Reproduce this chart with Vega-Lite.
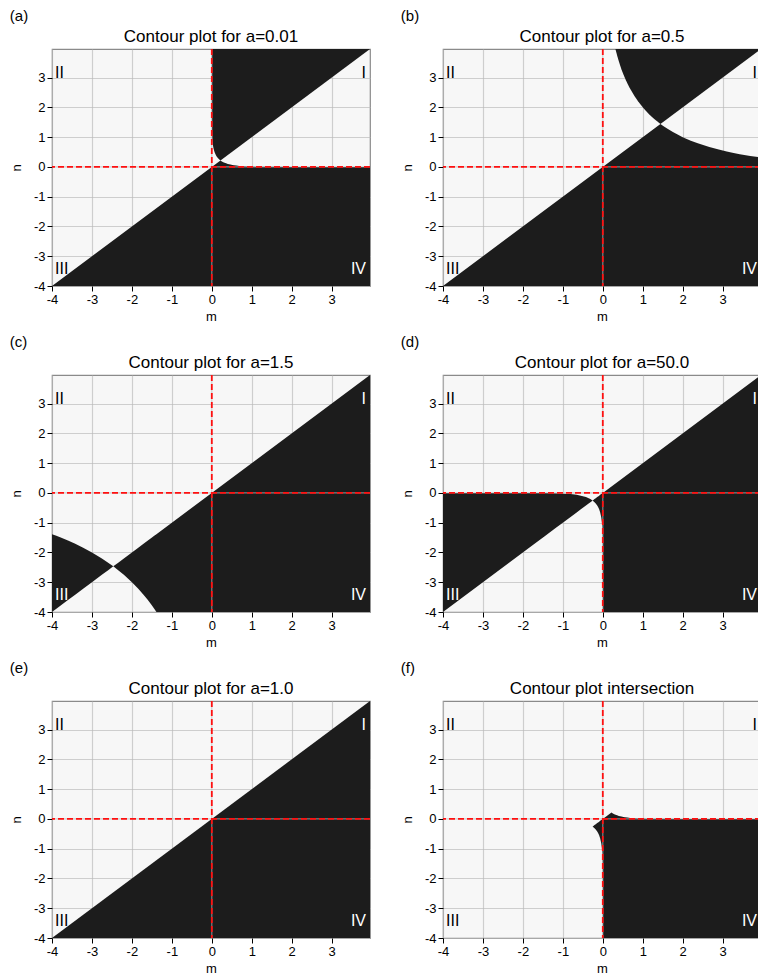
{
  "$schema": "https://vega.github.io/schema/vega-lite/v6.json",
  "background": "white",
  "padding": {"left": 9, "top": 8, "right": 0, "bottom": 0},
  "config": {
    "locale": {"number": {"decimal": ".", "thousands": ",", "grouping": [3], "currency": ["$", ""], "minus": "-"}},
    "view": {"stroke": "#8a8a8a", "strokeWidth": 1.2, "fill": "#f7f7f7"},
    "title": {"font": "Liberation Sans", "fontSize": 17, "fontWeight": "normal", "color": "#000000"},
    "axis": {
      "grid": true, "gridOpacity": 0.65, "gridWidth": 1.2, "domain": false,
      "tickColor": "#000000", "tickSize": 5, "tickWidth": 1,
      "labelFont": "Liberation Sans", "labelFontSize": 13, "labelColor": "#000000", "labelFlush": false, "labelOverlap": false,
      "titleFont": "Liberation Sans", "titleFontSize": 13, "titleFontWeight": "normal", "titleColor": "#000000",
      "zindex": 1
    },
    "axisX": {"labelPadding": 2, "titlePadding": 4},
    "axisY": {"labelPadding": 2, "titlePadding": 10},
    "style": {
      "dark": {"color": "#1c1c1c"},
      "zgray": {"color": "#b9b9b9", "opacity": 0.65, "strokeWidth": 1.2},
      "zred": {"color": "#ff1010", "strokeWidth": 1.8, "strokeDash": [6, 3]},
      "ql": {"align": "left", "baseline": "alphabetic", "dx": 3, "font": "Liberation Sans", "fontSize": 16},
      "qr": {"align": "right", "baseline": "alphabetic", "dx": -4, "font": "Liberation Sans", "fontSize": 16}
    }
  },
  "datasets": {
    "rows": [
      {"p":"a","k":"d","b":"A","m":-4,"lo":-4,"hi":-4},
      {"p":"a","k":"d","b":"A","m":0.21715,"lo":-4,"hi":0.21715},
      {"p":"a","k":"d","b":"A","m":0.22766,"lo":-4,"hi":0.20696},
      {"p":"a","k":"d","b":"A","m":0.24227,"lo":-4,"hi":0.19382},
      {"p":"a","k":"d","b":"A","m":0.26414,"lo":-4,"hi":0.17609},
      {"p":"a","k":"d","b":"A","m":0.30103,"lo":-4,"hi":0.15051},
      {"p":"a","k":"d","b":"A","m":0.35784,"lo":-4,"hi":0.11928},
      {"p":"a","k":"d","b":"A","m":0.40137,"lo":-4,"hi":0.10034},
      {"p":"a","k":"d","b":"A","m":0.4669,"lo":-4,"hi":0.07781},
      {"p":"a","k":"d","b":"A","m":0.5161,"lo":-4,"hi":0.06451},
      {"p":"a","k":"d","b":"A","m":0.5556,"lo":-4,"hi":0.05556},
      {"p":"a","k":"d","b":"A","m":0.6171,"lo":-4,"hi":0.04408},
      {"p":"a","k":"d","b":"A","m":0.6847,"lo":-4,"hi":0.03424},
      {"p":"a","k":"d","b":"A","m":0.7641,"lo":-4,"hi":0.02547},
      {"p":"a","k":"d","b":"A","m":0.8216,"lo":-4,"hi":0.02054},
      {"p":"a","k":"d","b":"A","m":0.9041,"lo":-4,"hi":0.01507},
      {"p":"a","k":"d","b":"A","m":1.0101,"lo":-4,"hi":0.0101},
      {"p":"a","k":"d","b":"A","m":1.109,"lo":-4,"hi":0.00693},
      {"p":"a","k":"d","b":"A","m":1.2427,"lo":-4,"hi":0.00414},
      {"p":"a","k":"d","b":"A","m":1.5015,"lo":-4,"hi":0.0015},
      {"p":"a","k":"d","b":"A","m":2.0,"lo":-4,"hi":0.0002},
      {"p":"a","k":"d","b":"A","m":3.96,"lo":-4,"hi":0},
      {"p":"a","k":"d","b":"B","m":0,"lo":3.96,"hi":3.96},
      {"p":"a","k":"d","b":"B","m":0.0002,"lo":2.0,"hi":3.96},
      {"p":"a","k":"d","b":"B","m":0.0015,"lo":1.5015,"hi":3.96},
      {"p":"a","k":"d","b":"B","m":0.00414,"lo":1.2427,"hi":3.96},
      {"p":"a","k":"d","b":"B","m":0.00693,"lo":1.109,"hi":3.96},
      {"p":"a","k":"d","b":"B","m":0.0101,"lo":1.0101,"hi":3.96},
      {"p":"a","k":"d","b":"B","m":0.01507,"lo":0.9041,"hi":3.96},
      {"p":"a","k":"d","b":"B","m":0.02054,"lo":0.8216,"hi":3.96},
      {"p":"a","k":"d","b":"B","m":0.02547,"lo":0.7641,"hi":3.96},
      {"p":"a","k":"d","b":"B","m":0.03424,"lo":0.6847,"hi":3.96},
      {"p":"a","k":"d","b":"B","m":0.04408,"lo":0.6171,"hi":3.96},
      {"p":"a","k":"d","b":"B","m":0.05556,"lo":0.5556,"hi":3.96},
      {"p":"a","k":"d","b":"B","m":0.06451,"lo":0.5161,"hi":3.96},
      {"p":"a","k":"d","b":"B","m":0.07781,"lo":0.4669,"hi":3.96},
      {"p":"a","k":"d","b":"B","m":0.10034,"lo":0.40137,"hi":3.96},
      {"p":"a","k":"d","b":"B","m":0.11928,"lo":0.35784,"hi":3.96},
      {"p":"a","k":"d","b":"B","m":0.15051,"lo":0.30103,"hi":3.96},
      {"p":"a","k":"d","b":"B","m":0.17609,"lo":0.26414,"hi":3.96},
      {"p":"a","k":"d","b":"B","m":0.19382,"lo":0.24227,"hi":3.96},
      {"p":"a","k":"d","b":"B","m":0.20696,"lo":0.22766,"hi":3.96},
      {"p":"a","k":"d","b":"B","m":0.21715,"lo":0.21715,"hi":3.96},
      {"p":"a","k":"d","b":"B","m":3.96,"lo":3.96,"hi":3.96},
      {"p":"a","k":"o","m":0,"n":0},
      {"p":"a","k":"q","s":"l","t":"II","m":-4,"n":3,"tone":"light"},
      {"p":"a","k":"q","s":"r","t":"I","m":3.96,"n":3,"tone":"light"},
      {"p":"a","k":"q","s":"l","t":"III","m":-4,"n":-3.6,"tone":"light"},
      {"p":"a","k":"q","s":"r","t":"IV","m":3.96,"n":-3.6,"tone":"dark"},

      {"p":"b","k":"d","b":"A","m":-4,"lo":-4,"hi":-4},
      {"p":"b","k":"d","b":"A","m":1.4427,"lo":-4,"hi":1.4427},
      {"p":"b","k":"d","b":"A","m":1.5126,"lo":-4,"hi":1.3751},
      {"p":"b","k":"d","b":"A","m":1.6097,"lo":-4,"hi":1.2877},
      {"p":"b","k":"d","b":"A","m":1.7549,"lo":-4,"hi":1.1699},
      {"p":"b","k":"d","b":"A","m":1.8838,"lo":-4,"hi":1.0765},
      {"p":"b","k":"d","b":"A","m":2.0,"lo":-4,"hi":1.0},
      {"p":"b","k":"d","b":"A","m":2.2032,"lo":-4,"hi":0.8813},
      {"p":"b","k":"d","b":"A","m":2.3774,"lo":-4,"hi":0.7925},
      {"p":"b","k":"d","b":"A","m":2.6667,"lo":-4,"hi":0.6667},
      {"p":"b","k":"d","b":"A","m":2.9024,"lo":-4,"hi":0.5805},
      {"p":"b","k":"d","b":"A","m":3.102,"lo":-4,"hi":0.517},
      {"p":"b","k":"d","b":"A","m":3.2752,"lo":-4,"hi":0.4679},
      {"p":"b","k":"d","b":"A","m":3.4286,"lo":-4,"hi":0.4286},
      {"p":"b","k":"d","b":"A","m":3.6911,"lo":-4,"hi":0.3691},
      {"p":"b","k":"d","b":"A","m":3.9108,"lo":-4,"hi":0.3259},
      {"p":"b","k":"d","b":"A","m":3.96,"lo":-4,"hi":0.3169},
      {"p":"b","k":"d","b":"B","m":0.3169,"lo":3.96,"hi":3.96},
      {"p":"b","k":"d","b":"B","m":0.3259,"lo":3.9108,"hi":3.96},
      {"p":"b","k":"d","b":"B","m":0.3691,"lo":3.6911,"hi":3.96},
      {"p":"b","k":"d","b":"B","m":0.4286,"lo":3.4286,"hi":3.96},
      {"p":"b","k":"d","b":"B","m":0.4679,"lo":3.2752,"hi":3.96},
      {"p":"b","k":"d","b":"B","m":0.517,"lo":3.102,"hi":3.96},
      {"p":"b","k":"d","b":"B","m":0.5805,"lo":2.9024,"hi":3.96},
      {"p":"b","k":"d","b":"B","m":0.6667,"lo":2.6667,"hi":3.96},
      {"p":"b","k":"d","b":"B","m":0.7925,"lo":2.3774,"hi":3.96},
      {"p":"b","k":"d","b":"B","m":0.8813,"lo":2.2032,"hi":3.96},
      {"p":"b","k":"d","b":"B","m":1.0,"lo":2.0,"hi":3.96},
      {"p":"b","k":"d","b":"B","m":1.0765,"lo":1.8838,"hi":3.96},
      {"p":"b","k":"d","b":"B","m":1.1699,"lo":1.7549,"hi":3.96},
      {"p":"b","k":"d","b":"B","m":1.2877,"lo":1.6097,"hi":3.96},
      {"p":"b","k":"d","b":"B","m":1.3751,"lo":1.5126,"hi":3.96},
      {"p":"b","k":"d","b":"B","m":1.4427,"lo":1.4427,"hi":3.96},
      {"p":"b","k":"d","b":"B","m":3.96,"lo":3.96,"hi":3.96},
      {"p":"b","k":"o","m":0,"n":0},
      {"p":"b","k":"q","s":"l","t":"II","m":-4,"n":3,"tone":"light"},
      {"p":"b","k":"q","s":"r","t":"I","m":3.96,"n":3,"tone":"light"},
      {"p":"b","k":"q","s":"l","t":"III","m":-4,"n":-3.6,"tone":"light"},
      {"p":"b","k":"q","s":"r","t":"IV","m":3.96,"n":-3.6,"tone":"dark"},

      {"p":"c","k":"d","b":"A","m":-4,"lo":-4,"hi":-1.386},
      {"p":"c","k":"d","b":"A","m":-3.8907,"lo":-3.8907,"hi":-1.441},
      {"p":"c","k":"d","b":"A","m":-3.7664,"lo":-3.7664,"hi":-1.5066},
      {"p":"c","k":"d","b":"A","m":-3.6,"lo":-3.6,"hi":-1.6},
      {"p":"c","k":"d","b":"A","m":-3.419,"lo":-3.419,"hi":-1.7095},
      {"p":"c","k":"d","b":"A","m":-3.2204,"lo":-3.2204,"hi":-1.8403},
      {"p":"c","k":"d","b":"A","m":-3.0,"lo":-3.0,"hi":-2.0},
      {"p":"c","k":"d","b":"A","m":-2.7517,"lo":-2.7517,"hi":-2.2014},
      {"p":"c","k":"d","b":"A","m":-2.5857,"lo":-2.5857,"hi":-2.3507},
      {"p":"c","k":"d","b":"A","m":-2.4663,"lo":-2.4663,"hi":-2.4663},
      {"p":"c","k":"d","b":"A","m":-2.3507,"lo":-2.5857,"hi":-2.3507},
      {"p":"c","k":"d","b":"A","m":-2.2014,"lo":-2.7517,"hi":-2.2014},
      {"p":"c","k":"d","b":"A","m":-2.0,"lo":-3.0,"hi":-2.0},
      {"p":"c","k":"d","b":"A","m":-1.8403,"lo":-3.2204,"hi":-1.8403},
      {"p":"c","k":"d","b":"A","m":-1.7095,"lo":-3.419,"hi":-1.7095},
      {"p":"c","k":"d","b":"A","m":-1.6,"lo":-3.6,"hi":-1.6},
      {"p":"c","k":"d","b":"A","m":-1.5066,"lo":-3.7664,"hi":-1.5066},
      {"p":"c","k":"d","b":"A","m":-1.441,"lo":-3.8907,"hi":-1.441},
      {"p":"c","k":"d","b":"A","m":-1.386,"lo":-4,"hi":-1.386},
      {"p":"c","k":"d","b":"A","m":3.96,"lo":-4,"hi":3.96},
      {"p":"c","k":"o","m":0,"n":0},
      {"p":"c","k":"q","s":"l","t":"II","m":-4,"n":3,"tone":"light"},
      {"p":"c","k":"q","s":"r","t":"I","m":3.96,"n":3,"tone":"dark"},
      {"p":"c","k":"q","s":"l","t":"III","m":-4,"n":-3.6,"tone":"dark"},
      {"p":"c","k":"q","s":"r","t":"IV","m":3.96,"n":-3.6,"tone":"dark"},

      {"p":"d","k":"d","b":"A","m":-4,"lo":-4,"hi":0},
      {"p":"d","k":"d","b":"A","m":-2.3546,"lo":-2.3546,"hi":-0.0002},
      {"p":"d","k":"d","b":"A","m":-1.7675,"lo":-1.7675,"hi":-0.0018},
      {"p":"d","k":"d","b":"A","m":-1.4629,"lo":-1.4629,"hi":-0.0049},
      {"p":"d","k":"d","b":"A","m":-1.1891,"lo":-1.1891,"hi":-0.0119},
      {"p":"d","k":"d","b":"A","m":-0.9671,"lo":-0.9671,"hi":-0.0242},
      {"p":"d","k":"d","b":"A","m":-0.8061,"lo":-0.8061,"hi":-0.0403},
      {"p":"d","k":"d","b":"A","m":-0.654,"lo":-0.654,"hi":-0.0654},
      {"p":"d","k":"d","b":"A","m":-0.5496,"lo":-0.5496,"hi":-0.0916},
      {"p":"d","k":"d","b":"A","m":-0.4725,"lo":-0.4725,"hi":-0.1181},
      {"p":"d","k":"d","b":"A","m":-0.4213,"lo":-0.4213,"hi":-0.1404},
      {"p":"d","k":"d","b":"A","m":-0.3544,"lo":-0.3544,"hi":-0.1772},
      {"p":"d","k":"d","b":"A","m":-0.3109,"lo":-0.3109,"hi":-0.2073},
      {"p":"d","k":"d","b":"A","m":-0.2852,"lo":-0.2852,"hi":-0.2282},
      {"p":"d","k":"d","b":"A","m":-0.268,"lo":-0.268,"hi":-0.2436},
      {"p":"d","k":"d","b":"A","m":-0.2556,"lo":-0.2556,"hi":-0.2556},
      {"p":"d","k":"d","b":"A","m":-0.2436,"lo":-0.268,"hi":-0.2436},
      {"p":"d","k":"d","b":"A","m":-0.2282,"lo":-0.2852,"hi":-0.2282},
      {"p":"d","k":"d","b":"A","m":-0.2073,"lo":-0.3109,"hi":-0.2073},
      {"p":"d","k":"d","b":"A","m":-0.1772,"lo":-0.3544,"hi":-0.1772},
      {"p":"d","k":"d","b":"A","m":-0.1404,"lo":-0.4213,"hi":-0.1404},
      {"p":"d","k":"d","b":"A","m":-0.1181,"lo":-0.4725,"hi":-0.1181},
      {"p":"d","k":"d","b":"A","m":-0.0916,"lo":-0.5496,"hi":-0.0916},
      {"p":"d","k":"d","b":"A","m":-0.0654,"lo":-0.654,"hi":-0.0654},
      {"p":"d","k":"d","b":"A","m":-0.0403,"lo":-0.8061,"hi":-0.0403},
      {"p":"d","k":"d","b":"A","m":-0.0242,"lo":-0.9671,"hi":-0.0242},
      {"p":"d","k":"d","b":"A","m":-0.0119,"lo":-1.1891,"hi":-0.0119},
      {"p":"d","k":"d","b":"A","m":-0.0049,"lo":-1.4629,"hi":-0.0049},
      {"p":"d","k":"d","b":"A","m":-0.0018,"lo":-1.7675,"hi":-0.0018},
      {"p":"d","k":"d","b":"A","m":-0.0002,"lo":-2.3546,"hi":-0.0002},
      {"p":"d","k":"d","b":"A","m":0,"lo":-4,"hi":0},
      {"p":"d","k":"d","b":"A","m":3.96,"lo":-4,"hi":3.96},
      {"p":"d","k":"o","m":0,"n":0},
      {"p":"d","k":"q","s":"l","t":"II","m":-4,"n":3,"tone":"light"},
      {"p":"d","k":"q","s":"r","t":"I","m":3.96,"n":3,"tone":"dark"},
      {"p":"d","k":"q","s":"l","t":"III","m":-4,"n":-3.6,"tone":"dark"},
      {"p":"d","k":"q","s":"r","t":"IV","m":3.96,"n":-3.6,"tone":"dark"},

      {"p":"e","k":"d","b":"A","m":-4,"lo":-4,"hi":-4},
      {"p":"e","k":"d","b":"A","m":3.96,"lo":-4,"hi":3.96},
      {"p":"e","k":"o","m":0,"n":0},
      {"p":"e","k":"q","s":"l","t":"II","m":-4,"n":3,"tone":"light"},
      {"p":"e","k":"q","s":"r","t":"I","m":3.96,"n":3,"tone":"dark"},
      {"p":"e","k":"q","s":"l","t":"III","m":-4,"n":-3.6,"tone":"light"},
      {"p":"e","k":"q","s":"r","t":"IV","m":3.96,"n":-3.6,"tone":"dark"},

      {"p":"f","k":"d","b":"A","m":-0.2556,"lo":-0.2556,"hi":-0.2556},
      {"p":"f","k":"d","b":"A","m":-0.2436,"lo":-0.268,"hi":-0.2436},
      {"p":"f","k":"d","b":"A","m":-0.2282,"lo":-0.2852,"hi":-0.2282},
      {"p":"f","k":"d","b":"A","m":-0.2073,"lo":-0.3109,"hi":-0.2073},
      {"p":"f","k":"d","b":"A","m":-0.1772,"lo":-0.3544,"hi":-0.1772},
      {"p":"f","k":"d","b":"A","m":-0.1404,"lo":-0.4213,"hi":-0.1404},
      {"p":"f","k":"d","b":"A","m":-0.1181,"lo":-0.4725,"hi":-0.1181},
      {"p":"f","k":"d","b":"A","m":-0.0916,"lo":-0.5496,"hi":-0.0916},
      {"p":"f","k":"d","b":"A","m":-0.0654,"lo":-0.654,"hi":-0.0654},
      {"p":"f","k":"d","b":"A","m":-0.0403,"lo":-0.8061,"hi":-0.0403},
      {"p":"f","k":"d","b":"A","m":-0.0242,"lo":-0.9671,"hi":-0.0242},
      {"p":"f","k":"d","b":"A","m":-0.0119,"lo":-1.1891,"hi":-0.0119},
      {"p":"f","k":"d","b":"A","m":-0.0049,"lo":-1.4629,"hi":-0.0049},
      {"p":"f","k":"d","b":"A","m":-0.0018,"lo":-1.7675,"hi":-0.0018},
      {"p":"f","k":"d","b":"A","m":-0.0002,"lo":-2.3546,"hi":-0.0002},
      {"p":"f","k":"d","b":"A","m":0,"lo":-4,"hi":0},
      {"p":"f","k":"d","b":"A","m":0.21715,"lo":-4,"hi":0.21715},
      {"p":"f","k":"d","b":"A","m":0.22766,"lo":-4,"hi":0.20696},
      {"p":"f","k":"d","b":"A","m":0.24227,"lo":-4,"hi":0.19382},
      {"p":"f","k":"d","b":"A","m":0.26414,"lo":-4,"hi":0.17609},
      {"p":"f","k":"d","b":"A","m":0.30103,"lo":-4,"hi":0.15051},
      {"p":"f","k":"d","b":"A","m":0.35784,"lo":-4,"hi":0.11928},
      {"p":"f","k":"d","b":"A","m":0.40137,"lo":-4,"hi":0.10034},
      {"p":"f","k":"d","b":"A","m":0.4669,"lo":-4,"hi":0.07781},
      {"p":"f","k":"d","b":"A","m":0.5161,"lo":-4,"hi":0.06451},
      {"p":"f","k":"d","b":"A","m":0.5556,"lo":-4,"hi":0.05556},
      {"p":"f","k":"d","b":"A","m":0.6171,"lo":-4,"hi":0.04408},
      {"p":"f","k":"d","b":"A","m":0.6847,"lo":-4,"hi":0.03424},
      {"p":"f","k":"d","b":"A","m":0.7641,"lo":-4,"hi":0.02547},
      {"p":"f","k":"d","b":"A","m":0.8216,"lo":-4,"hi":0.02054},
      {"p":"f","k":"d","b":"A","m":0.9041,"lo":-4,"hi":0.01507},
      {"p":"f","k":"d","b":"A","m":1.0101,"lo":-4,"hi":0.0101},
      {"p":"f","k":"d","b":"A","m":1.109,"lo":-4,"hi":0.00693},
      {"p":"f","k":"d","b":"A","m":1.2427,"lo":-4,"hi":0.00414},
      {"p":"f","k":"d","b":"A","m":1.5015,"lo":-4,"hi":0.0015},
      {"p":"f","k":"d","b":"A","m":2.0,"lo":-4,"hi":0.0002},
      {"p":"f","k":"d","b":"A","m":3.96,"lo":-4,"hi":0},
      {"p":"f","k":"o","m":0,"n":0},
      {"p":"f","k":"q","s":"l","t":"II","m":-4,"n":3,"tone":"light"},
      {"p":"f","k":"q","s":"r","t":"I","m":3.96,"n":3,"tone":"light"},
      {"p":"f","k":"q","s":"l","t":"III","m":-4,"n":-3.6,"tone":"light"},
      {"p":"f","k":"q","s":"r","t":"IV","m":3.96,"n":-3.6,"tone":"dark"}
    ]
  },
  "columns": 2,
  "spacing": {"row": 10, "column": 28},
  "concat": [
    {"title": {"text": "(a)", "anchor": "start", "fontSize": 15, "offset": 4},
     "vconcat": [{"title": {"text": "Contour plot for a=0.01", "offset": 2}, "width": 318, "height": 237,
      "data": {"name": "rows"}, "transform": [{"filter": "datum.p === 'a'"}],
      "layer": [
        {"transform": [{"filter": "datum.k === 'd'"}], "mark": {"type": "area", "style": "dark"},
         "encoding": {"x": {"field": "m", "type": "quantitative", "title": "m", "scale": {"domain": [-4, 3.96], "nice": false, "zero": false}, "axis": {"values": [-4, -3, -2, -1, 0, 1, 2, 3], "gridColor": {"condition": {"test": "datum.value === 0", "value": "transparent"}, "value": "#b9b9b9"}}},
                      "y": {"field": "lo", "type": "quantitative", "title": "n", "scale": {"domain": [-4, 3.96], "nice": false, "zero": false}, "axis": {"values": [-4, -3, -2, -1, 0, 1, 2, 3], "gridColor": {"condition": {"test": "datum.value === 0", "value": "transparent"}, "value": "#b9b9b9"}}},
                      "y2": {"field": "hi"}, "detail": {"field": "b"}}},
        {"transform": [{"filter": "datum.k === 'o'"}], "mark": {"type": "rule", "style": "zgray"}, "encoding": {"x": {"field": "m", "type": "quantitative", "title": "m", "scale": {"domain": [-4, 3.96], "nice": false, "zero": false}, "axis": {"values": [-4, -3, -2, -1, 0, 1, 2, 3], "gridColor": {"condition": {"test": "datum.value === 0", "value": "transparent"}, "value": "#b9b9b9"}}}}},
        {"transform": [{"filter": "datum.k === 'o'"}], "mark": {"type": "rule", "style": "zgray"}, "encoding": {"y": {"field": "n", "type": "quantitative", "title": "n", "scale": {"domain": [-4, 3.96], "nice": false, "zero": false}, "axis": {"values": [-4, -3, -2, -1, 0, 1, 2, 3], "gridColor": {"condition": {"test": "datum.value === 0", "value": "transparent"}, "value": "#b9b9b9"}}}}},
        {"transform": [{"filter": "datum.k === 'o'"}], "mark": {"type": "rule", "style": "zred"}, "encoding": {"x": {"field": "m", "type": "quantitative", "title": "m", "scale": {"domain": [-4, 3.96], "nice": false, "zero": false}, "axis": {"values": [-4, -3, -2, -1, 0, 1, 2, 3], "gridColor": {"condition": {"test": "datum.value === 0", "value": "transparent"}, "value": "#b9b9b9"}}}}},
        {"transform": [{"filter": "datum.k === 'o'"}], "mark": {"type": "rule", "style": "zred"}, "encoding": {"y": {"field": "n", "type": "quantitative", "title": "n", "scale": {"domain": [-4, 3.96], "nice": false, "zero": false}, "axis": {"values": [-4, -3, -2, -1, 0, 1, 2, 3], "gridColor": {"condition": {"test": "datum.value === 0", "value": "transparent"}, "value": "#b9b9b9"}}}}},
        {"transform": [{"filter": "datum.k === 'q' && datum.s === 'l'"}], "mark": {"type": "text", "style": "ql"},
         "encoding": {"x": {"field": "m", "type": "quantitative", "title": "m", "scale": {"domain": [-4, 3.96], "nice": false, "zero": false}, "axis": {"values": [-4, -3, -2, -1, 0, 1, 2, 3], "gridColor": {"condition": {"test": "datum.value === 0", "value": "transparent"}, "value": "#b9b9b9"}}}, "y": {"field": "n", "type": "quantitative", "title": "n", "scale": {"domain": [-4, 3.96], "nice": false, "zero": false}, "axis": {"values": [-4, -3, -2, -1, 0, 1, 2, 3], "gridColor": {"condition": {"test": "datum.value === 0", "value": "transparent"}, "value": "#b9b9b9"}}}, "text": {"field": "t"}, "color": {"field": "tone", "type": "nominal", "scale": {"domain": ["light", "dark"], "range": ["#000000", "#ffffff"]}, "legend": null}}},
        {"transform": [{"filter": "datum.k === 'q' && datum.s === 'r'"}], "mark": {"type": "text", "style": "qr"},
         "encoding": {"x": {"field": "m", "type": "quantitative", "title": "m", "scale": {"domain": [-4, 3.96], "nice": false, "zero": false}, "axis": {"values": [-4, -3, -2, -1, 0, 1, 2, 3], "gridColor": {"condition": {"test": "datum.value === 0", "value": "transparent"}, "value": "#b9b9b9"}}}, "y": {"field": "n", "type": "quantitative", "title": "n", "scale": {"domain": [-4, 3.96], "nice": false, "zero": false}, "axis": {"values": [-4, -3, -2, -1, 0, 1, 2, 3], "gridColor": {"condition": {"test": "datum.value === 0", "value": "transparent"}, "value": "#b9b9b9"}}}, "text": {"field": "t"}, "color": {"field": "tone", "type": "nominal", "scale": {"domain": ["light", "dark"], "range": ["#000000", "#ffffff"]}, "legend": null}}}
      ]}]},
    {"title": {"text": "(b)", "anchor": "start", "fontSize": 15, "offset": 4},
     "vconcat": [{"title": {"text": "Contour plot for a=0.5", "offset": 2}, "width": 318, "height": 237,
      "data": {"name": "rows"}, "transform": [{"filter": "datum.p === 'b'"}],
      "layer": [
        {"transform": [{"filter": "datum.k === 'd'"}], "mark": {"type": "area", "style": "dark"},
         "encoding": {"x": {"field": "m", "type": "quantitative", "title": "m", "scale": {"domain": [-4, 3.96], "nice": false, "zero": false}, "axis": {"values": [-4, -3, -2, -1, 0, 1, 2, 3], "gridColor": {"condition": {"test": "datum.value === 0", "value": "transparent"}, "value": "#b9b9b9"}}},
                      "y": {"field": "lo", "type": "quantitative", "title": "n", "scale": {"domain": [-4, 3.96], "nice": false, "zero": false}, "axis": {"values": [-4, -3, -2, -1, 0, 1, 2, 3], "gridColor": {"condition": {"test": "datum.value === 0", "value": "transparent"}, "value": "#b9b9b9"}}},
                      "y2": {"field": "hi"}, "detail": {"field": "b"}}},
        {"transform": [{"filter": "datum.k === 'o'"}], "mark": {"type": "rule", "style": "zgray"}, "encoding": {"x": {"field": "m", "type": "quantitative", "title": "m", "scale": {"domain": [-4, 3.96], "nice": false, "zero": false}, "axis": {"values": [-4, -3, -2, -1, 0, 1, 2, 3], "gridColor": {"condition": {"test": "datum.value === 0", "value": "transparent"}, "value": "#b9b9b9"}}}}},
        {"transform": [{"filter": "datum.k === 'o'"}], "mark": {"type": "rule", "style": "zgray"}, "encoding": {"y": {"field": "n", "type": "quantitative", "title": "n", "scale": {"domain": [-4, 3.96], "nice": false, "zero": false}, "axis": {"values": [-4, -3, -2, -1, 0, 1, 2, 3], "gridColor": {"condition": {"test": "datum.value === 0", "value": "transparent"}, "value": "#b9b9b9"}}}}},
        {"transform": [{"filter": "datum.k === 'o'"}], "mark": {"type": "rule", "style": "zred"}, "encoding": {"x": {"field": "m", "type": "quantitative", "title": "m", "scale": {"domain": [-4, 3.96], "nice": false, "zero": false}, "axis": {"values": [-4, -3, -2, -1, 0, 1, 2, 3], "gridColor": {"condition": {"test": "datum.value === 0", "value": "transparent"}, "value": "#b9b9b9"}}}}},
        {"transform": [{"filter": "datum.k === 'o'"}], "mark": {"type": "rule", "style": "zred"}, "encoding": {"y": {"field": "n", "type": "quantitative", "title": "n", "scale": {"domain": [-4, 3.96], "nice": false, "zero": false}, "axis": {"values": [-4, -3, -2, -1, 0, 1, 2, 3], "gridColor": {"condition": {"test": "datum.value === 0", "value": "transparent"}, "value": "#b9b9b9"}}}}},
        {"transform": [{"filter": "datum.k === 'q' && datum.s === 'l'"}], "mark": {"type": "text", "style": "ql"},
         "encoding": {"x": {"field": "m", "type": "quantitative", "title": "m", "scale": {"domain": [-4, 3.96], "nice": false, "zero": false}, "axis": {"values": [-4, -3, -2, -1, 0, 1, 2, 3], "gridColor": {"condition": {"test": "datum.value === 0", "value": "transparent"}, "value": "#b9b9b9"}}}, "y": {"field": "n", "type": "quantitative", "title": "n", "scale": {"domain": [-4, 3.96], "nice": false, "zero": false}, "axis": {"values": [-4, -3, -2, -1, 0, 1, 2, 3], "gridColor": {"condition": {"test": "datum.value === 0", "value": "transparent"}, "value": "#b9b9b9"}}}, "text": {"field": "t"}, "color": {"field": "tone", "type": "nominal", "scale": {"domain": ["light", "dark"], "range": ["#000000", "#ffffff"]}, "legend": null}}},
        {"transform": [{"filter": "datum.k === 'q' && datum.s === 'r'"}], "mark": {"type": "text", "style": "qr"},
         "encoding": {"x": {"field": "m", "type": "quantitative", "title": "m", "scale": {"domain": [-4, 3.96], "nice": false, "zero": false}, "axis": {"values": [-4, -3, -2, -1, 0, 1, 2, 3], "gridColor": {"condition": {"test": "datum.value === 0", "value": "transparent"}, "value": "#b9b9b9"}}}, "y": {"field": "n", "type": "quantitative", "title": "n", "scale": {"domain": [-4, 3.96], "nice": false, "zero": false}, "axis": {"values": [-4, -3, -2, -1, 0, 1, 2, 3], "gridColor": {"condition": {"test": "datum.value === 0", "value": "transparent"}, "value": "#b9b9b9"}}}, "text": {"field": "t"}, "color": {"field": "tone", "type": "nominal", "scale": {"domain": ["light", "dark"], "range": ["#000000", "#ffffff"]}, "legend": null}}}
      ]}]},
    {"title": {"text": "(c)", "anchor": "start", "fontSize": 15, "offset": 4},
     "vconcat": [{"title": {"text": "Contour plot for a=1.5", "offset": 2}, "width": 318, "height": 237,
      "data": {"name": "rows"}, "transform": [{"filter": "datum.p === 'c'"}],
      "layer": [
        {"transform": [{"filter": "datum.k === 'd'"}], "mark": {"type": "area", "style": "dark"},
         "encoding": {"x": {"field": "m", "type": "quantitative", "title": "m", "scale": {"domain": [-4, 3.96], "nice": false, "zero": false}, "axis": {"values": [-4, -3, -2, -1, 0, 1, 2, 3], "gridColor": {"condition": {"test": "datum.value === 0", "value": "transparent"}, "value": "#b9b9b9"}}},
                      "y": {"field": "lo", "type": "quantitative", "title": "n", "scale": {"domain": [-4, 3.96], "nice": false, "zero": false}, "axis": {"values": [-4, -3, -2, -1, 0, 1, 2, 3], "gridColor": {"condition": {"test": "datum.value === 0", "value": "transparent"}, "value": "#b9b9b9"}}},
                      "y2": {"field": "hi"}, "detail": {"field": "b"}}},
        {"transform": [{"filter": "datum.k === 'o'"}], "mark": {"type": "rule", "style": "zgray"}, "encoding": {"x": {"field": "m", "type": "quantitative", "title": "m", "scale": {"domain": [-4, 3.96], "nice": false, "zero": false}, "axis": {"values": [-4, -3, -2, -1, 0, 1, 2, 3], "gridColor": {"condition": {"test": "datum.value === 0", "value": "transparent"}, "value": "#b9b9b9"}}}}},
        {"transform": [{"filter": "datum.k === 'o'"}], "mark": {"type": "rule", "style": "zgray"}, "encoding": {"y": {"field": "n", "type": "quantitative", "title": "n", "scale": {"domain": [-4, 3.96], "nice": false, "zero": false}, "axis": {"values": [-4, -3, -2, -1, 0, 1, 2, 3], "gridColor": {"condition": {"test": "datum.value === 0", "value": "transparent"}, "value": "#b9b9b9"}}}}},
        {"transform": [{"filter": "datum.k === 'o'"}], "mark": {"type": "rule", "style": "zred"}, "encoding": {"x": {"field": "m", "type": "quantitative", "title": "m", "scale": {"domain": [-4, 3.96], "nice": false, "zero": false}, "axis": {"values": [-4, -3, -2, -1, 0, 1, 2, 3], "gridColor": {"condition": {"test": "datum.value === 0", "value": "transparent"}, "value": "#b9b9b9"}}}}},
        {"transform": [{"filter": "datum.k === 'o'"}], "mark": {"type": "rule", "style": "zred"}, "encoding": {"y": {"field": "n", "type": "quantitative", "title": "n", "scale": {"domain": [-4, 3.96], "nice": false, "zero": false}, "axis": {"values": [-4, -3, -2, -1, 0, 1, 2, 3], "gridColor": {"condition": {"test": "datum.value === 0", "value": "transparent"}, "value": "#b9b9b9"}}}}},
        {"transform": [{"filter": "datum.k === 'q' && datum.s === 'l'"}], "mark": {"type": "text", "style": "ql"},
         "encoding": {"x": {"field": "m", "type": "quantitative", "title": "m", "scale": {"domain": [-4, 3.96], "nice": false, "zero": false}, "axis": {"values": [-4, -3, -2, -1, 0, 1, 2, 3], "gridColor": {"condition": {"test": "datum.value === 0", "value": "transparent"}, "value": "#b9b9b9"}}}, "y": {"field": "n", "type": "quantitative", "title": "n", "scale": {"domain": [-4, 3.96], "nice": false, "zero": false}, "axis": {"values": [-4, -3, -2, -1, 0, 1, 2, 3], "gridColor": {"condition": {"test": "datum.value === 0", "value": "transparent"}, "value": "#b9b9b9"}}}, "text": {"field": "t"}, "color": {"field": "tone", "type": "nominal", "scale": {"domain": ["light", "dark"], "range": ["#000000", "#ffffff"]}, "legend": null}}},
        {"transform": [{"filter": "datum.k === 'q' && datum.s === 'r'"}], "mark": {"type": "text", "style": "qr"},
         "encoding": {"x": {"field": "m", "type": "quantitative", "title": "m", "scale": {"domain": [-4, 3.96], "nice": false, "zero": false}, "axis": {"values": [-4, -3, -2, -1, 0, 1, 2, 3], "gridColor": {"condition": {"test": "datum.value === 0", "value": "transparent"}, "value": "#b9b9b9"}}}, "y": {"field": "n", "type": "quantitative", "title": "n", "scale": {"domain": [-4, 3.96], "nice": false, "zero": false}, "axis": {"values": [-4, -3, -2, -1, 0, 1, 2, 3], "gridColor": {"condition": {"test": "datum.value === 0", "value": "transparent"}, "value": "#b9b9b9"}}}, "text": {"field": "t"}, "color": {"field": "tone", "type": "nominal", "scale": {"domain": ["light", "dark"], "range": ["#000000", "#ffffff"]}, "legend": null}}}
      ]}]},
    {"title": {"text": "(d)", "anchor": "start", "fontSize": 15, "offset": 4},
     "vconcat": [{"title": {"text": "Contour plot for a=50.0", "offset": 2}, "width": 318, "height": 237,
      "data": {"name": "rows"}, "transform": [{"filter": "datum.p === 'd'"}],
      "layer": [
        {"transform": [{"filter": "datum.k === 'd'"}], "mark": {"type": "area", "style": "dark"},
         "encoding": {"x": {"field": "m", "type": "quantitative", "title": "m", "scale": {"domain": [-4, 3.96], "nice": false, "zero": false}, "axis": {"values": [-4, -3, -2, -1, 0, 1, 2, 3], "gridColor": {"condition": {"test": "datum.value === 0", "value": "transparent"}, "value": "#b9b9b9"}}},
                      "y": {"field": "lo", "type": "quantitative", "title": "n", "scale": {"domain": [-4, 3.96], "nice": false, "zero": false}, "axis": {"values": [-4, -3, -2, -1, 0, 1, 2, 3], "gridColor": {"condition": {"test": "datum.value === 0", "value": "transparent"}, "value": "#b9b9b9"}}},
                      "y2": {"field": "hi"}, "detail": {"field": "b"}}},
        {"transform": [{"filter": "datum.k === 'o'"}], "mark": {"type": "rule", "style": "zgray"}, "encoding": {"x": {"field": "m", "type": "quantitative", "title": "m", "scale": {"domain": [-4, 3.96], "nice": false, "zero": false}, "axis": {"values": [-4, -3, -2, -1, 0, 1, 2, 3], "gridColor": {"condition": {"test": "datum.value === 0", "value": "transparent"}, "value": "#b9b9b9"}}}}},
        {"transform": [{"filter": "datum.k === 'o'"}], "mark": {"type": "rule", "style": "zgray"}, "encoding": {"y": {"field": "n", "type": "quantitative", "title": "n", "scale": {"domain": [-4, 3.96], "nice": false, "zero": false}, "axis": {"values": [-4, -3, -2, -1, 0, 1, 2, 3], "gridColor": {"condition": {"test": "datum.value === 0", "value": "transparent"}, "value": "#b9b9b9"}}}}},
        {"transform": [{"filter": "datum.k === 'o'"}], "mark": {"type": "rule", "style": "zred"}, "encoding": {"x": {"field": "m", "type": "quantitative", "title": "m", "scale": {"domain": [-4, 3.96], "nice": false, "zero": false}, "axis": {"values": [-4, -3, -2, -1, 0, 1, 2, 3], "gridColor": {"condition": {"test": "datum.value === 0", "value": "transparent"}, "value": "#b9b9b9"}}}}},
        {"transform": [{"filter": "datum.k === 'o'"}], "mark": {"type": "rule", "style": "zred"}, "encoding": {"y": {"field": "n", "type": "quantitative", "title": "n", "scale": {"domain": [-4, 3.96], "nice": false, "zero": false}, "axis": {"values": [-4, -3, -2, -1, 0, 1, 2, 3], "gridColor": {"condition": {"test": "datum.value === 0", "value": "transparent"}, "value": "#b9b9b9"}}}}},
        {"transform": [{"filter": "datum.k === 'q' && datum.s === 'l'"}], "mark": {"type": "text", "style": "ql"},
         "encoding": {"x": {"field": "m", "type": "quantitative", "title": "m", "scale": {"domain": [-4, 3.96], "nice": false, "zero": false}, "axis": {"values": [-4, -3, -2, -1, 0, 1, 2, 3], "gridColor": {"condition": {"test": "datum.value === 0", "value": "transparent"}, "value": "#b9b9b9"}}}, "y": {"field": "n", "type": "quantitative", "title": "n", "scale": {"domain": [-4, 3.96], "nice": false, "zero": false}, "axis": {"values": [-4, -3, -2, -1, 0, 1, 2, 3], "gridColor": {"condition": {"test": "datum.value === 0", "value": "transparent"}, "value": "#b9b9b9"}}}, "text": {"field": "t"}, "color": {"field": "tone", "type": "nominal", "scale": {"domain": ["light", "dark"], "range": ["#000000", "#ffffff"]}, "legend": null}}},
        {"transform": [{"filter": "datum.k === 'q' && datum.s === 'r'"}], "mark": {"type": "text", "style": "qr"},
         "encoding": {"x": {"field": "m", "type": "quantitative", "title": "m", "scale": {"domain": [-4, 3.96], "nice": false, "zero": false}, "axis": {"values": [-4, -3, -2, -1, 0, 1, 2, 3], "gridColor": {"condition": {"test": "datum.value === 0", "value": "transparent"}, "value": "#b9b9b9"}}}, "y": {"field": "n", "type": "quantitative", "title": "n", "scale": {"domain": [-4, 3.96], "nice": false, "zero": false}, "axis": {"values": [-4, -3, -2, -1, 0, 1, 2, 3], "gridColor": {"condition": {"test": "datum.value === 0", "value": "transparent"}, "value": "#b9b9b9"}}}, "text": {"field": "t"}, "color": {"field": "tone", "type": "nominal", "scale": {"domain": ["light", "dark"], "range": ["#000000", "#ffffff"]}, "legend": null}}}
      ]}]},
    {"title": {"text": "(e)", "anchor": "start", "fontSize": 15, "offset": 4},
     "vconcat": [{"title": {"text": "Contour plot for a=1.0", "offset": 2}, "width": 318, "height": 237,
      "data": {"name": "rows"}, "transform": [{"filter": "datum.p === 'e'"}],
      "layer": [
        {"transform": [{"filter": "datum.k === 'd'"}], "mark": {"type": "area", "style": "dark"},
         "encoding": {"x": {"field": "m", "type": "quantitative", "title": "m", "scale": {"domain": [-4, 3.96], "nice": false, "zero": false}, "axis": {"values": [-4, -3, -2, -1, 0, 1, 2, 3], "gridColor": {"condition": {"test": "datum.value === 0", "value": "transparent"}, "value": "#b9b9b9"}}},
                      "y": {"field": "lo", "type": "quantitative", "title": "n", "scale": {"domain": [-4, 3.96], "nice": false, "zero": false}, "axis": {"values": [-4, -3, -2, -1, 0, 1, 2, 3], "gridColor": {"condition": {"test": "datum.value === 0", "value": "transparent"}, "value": "#b9b9b9"}}},
                      "y2": {"field": "hi"}, "detail": {"field": "b"}}},
        {"transform": [{"filter": "datum.k === 'o'"}], "mark": {"type": "rule", "style": "zgray"}, "encoding": {"x": {"field": "m", "type": "quantitative", "title": "m", "scale": {"domain": [-4, 3.96], "nice": false, "zero": false}, "axis": {"values": [-4, -3, -2, -1, 0, 1, 2, 3], "gridColor": {"condition": {"test": "datum.value === 0", "value": "transparent"}, "value": "#b9b9b9"}}}}},
        {"transform": [{"filter": "datum.k === 'o'"}], "mark": {"type": "rule", "style": "zgray"}, "encoding": {"y": {"field": "n", "type": "quantitative", "title": "n", "scale": {"domain": [-4, 3.96], "nice": false, "zero": false}, "axis": {"values": [-4, -3, -2, -1, 0, 1, 2, 3], "gridColor": {"condition": {"test": "datum.value === 0", "value": "transparent"}, "value": "#b9b9b9"}}}}},
        {"transform": [{"filter": "datum.k === 'o'"}], "mark": {"type": "rule", "style": "zred"}, "encoding": {"x": {"field": "m", "type": "quantitative", "title": "m", "scale": {"domain": [-4, 3.96], "nice": false, "zero": false}, "axis": {"values": [-4, -3, -2, -1, 0, 1, 2, 3], "gridColor": {"condition": {"test": "datum.value === 0", "value": "transparent"}, "value": "#b9b9b9"}}}}},
        {"transform": [{"filter": "datum.k === 'o'"}], "mark": {"type": "rule", "style": "zred"}, "encoding": {"y": {"field": "n", "type": "quantitative", "title": "n", "scale": {"domain": [-4, 3.96], "nice": false, "zero": false}, "axis": {"values": [-4, -3, -2, -1, 0, 1, 2, 3], "gridColor": {"condition": {"test": "datum.value === 0", "value": "transparent"}, "value": "#b9b9b9"}}}}},
        {"transform": [{"filter": "datum.k === 'q' && datum.s === 'l'"}], "mark": {"type": "text", "style": "ql"},
         "encoding": {"x": {"field": "m", "type": "quantitative", "title": "m", "scale": {"domain": [-4, 3.96], "nice": false, "zero": false}, "axis": {"values": [-4, -3, -2, -1, 0, 1, 2, 3], "gridColor": {"condition": {"test": "datum.value === 0", "value": "transparent"}, "value": "#b9b9b9"}}}, "y": {"field": "n", "type": "quantitative", "title": "n", "scale": {"domain": [-4, 3.96], "nice": false, "zero": false}, "axis": {"values": [-4, -3, -2, -1, 0, 1, 2, 3], "gridColor": {"condition": {"test": "datum.value === 0", "value": "transparent"}, "value": "#b9b9b9"}}}, "text": {"field": "t"}, "color": {"field": "tone", "type": "nominal", "scale": {"domain": ["light", "dark"], "range": ["#000000", "#ffffff"]}, "legend": null}}},
        {"transform": [{"filter": "datum.k === 'q' && datum.s === 'r'"}], "mark": {"type": "text", "style": "qr"},
         "encoding": {"x": {"field": "m", "type": "quantitative", "title": "m", "scale": {"domain": [-4, 3.96], "nice": false, "zero": false}, "axis": {"values": [-4, -3, -2, -1, 0, 1, 2, 3], "gridColor": {"condition": {"test": "datum.value === 0", "value": "transparent"}, "value": "#b9b9b9"}}}, "y": {"field": "n", "type": "quantitative", "title": "n", "scale": {"domain": [-4, 3.96], "nice": false, "zero": false}, "axis": {"values": [-4, -3, -2, -1, 0, 1, 2, 3], "gridColor": {"condition": {"test": "datum.value === 0", "value": "transparent"}, "value": "#b9b9b9"}}}, "text": {"field": "t"}, "color": {"field": "tone", "type": "nominal", "scale": {"domain": ["light", "dark"], "range": ["#000000", "#ffffff"]}, "legend": null}}}
      ]}]},
    {"title": {"text": "(f)", "anchor": "start", "fontSize": 15, "offset": 4},
     "vconcat": [{"title": {"text": "Contour plot intersection", "offset": 2}, "width": 318, "height": 237,
      "data": {"name": "rows"}, "transform": [{"filter": "datum.p === 'f'"}],
      "layer": [
        {"transform": [{"filter": "datum.k === 'd'"}], "mark": {"type": "area", "style": "dark"},
         "encoding": {"x": {"field": "m", "type": "quantitative", "title": "m", "scale": {"domain": [-4, 3.96], "nice": false, "zero": false}, "axis": {"values": [-4, -3, -2, -1, 0, 1, 2, 3], "gridColor": {"condition": {"test": "datum.value === 0", "value": "transparent"}, "value": "#b9b9b9"}}},
                      "y": {"field": "lo", "type": "quantitative", "title": "n", "scale": {"domain": [-4, 3.96], "nice": false, "zero": false}, "axis": {"values": [-4, -3, -2, -1, 0, 1, 2, 3], "gridColor": {"condition": {"test": "datum.value === 0", "value": "transparent"}, "value": "#b9b9b9"}}},
                      "y2": {"field": "hi"}, "detail": {"field": "b"}}},
        {"transform": [{"filter": "datum.k === 'o'"}], "mark": {"type": "rule", "style": "zgray"}, "encoding": {"x": {"field": "m", "type": "quantitative", "title": "m", "scale": {"domain": [-4, 3.96], "nice": false, "zero": false}, "axis": {"values": [-4, -3, -2, -1, 0, 1, 2, 3], "gridColor": {"condition": {"test": "datum.value === 0", "value": "transparent"}, "value": "#b9b9b9"}}}}},
        {"transform": [{"filter": "datum.k === 'o'"}], "mark": {"type": "rule", "style": "zgray"}, "encoding": {"y": {"field": "n", "type": "quantitative", "title": "n", "scale": {"domain": [-4, 3.96], "nice": false, "zero": false}, "axis": {"values": [-4, -3, -2, -1, 0, 1, 2, 3], "gridColor": {"condition": {"test": "datum.value === 0", "value": "transparent"}, "value": "#b9b9b9"}}}}},
        {"transform": [{"filter": "datum.k === 'o'"}], "mark": {"type": "rule", "style": "zred"}, "encoding": {"x": {"field": "m", "type": "quantitative", "title": "m", "scale": {"domain": [-4, 3.96], "nice": false, "zero": false}, "axis": {"values": [-4, -3, -2, -1, 0, 1, 2, 3], "gridColor": {"condition": {"test": "datum.value === 0", "value": "transparent"}, "value": "#b9b9b9"}}}}},
        {"transform": [{"filter": "datum.k === 'o'"}], "mark": {"type": "rule", "style": "zred"}, "encoding": {"y": {"field": "n", "type": "quantitative", "title": "n", "scale": {"domain": [-4, 3.96], "nice": false, "zero": false}, "axis": {"values": [-4, -3, -2, -1, 0, 1, 2, 3], "gridColor": {"condition": {"test": "datum.value === 0", "value": "transparent"}, "value": "#b9b9b9"}}}}},
        {"transform": [{"filter": "datum.k === 'q' && datum.s === 'l'"}], "mark": {"type": "text", "style": "ql"},
         "encoding": {"x": {"field": "m", "type": "quantitative", "title": "m", "scale": {"domain": [-4, 3.96], "nice": false, "zero": false}, "axis": {"values": [-4, -3, -2, -1, 0, 1, 2, 3], "gridColor": {"condition": {"test": "datum.value === 0", "value": "transparent"}, "value": "#b9b9b9"}}}, "y": {"field": "n", "type": "quantitative", "title": "n", "scale": {"domain": [-4, 3.96], "nice": false, "zero": false}, "axis": {"values": [-4, -3, -2, -1, 0, 1, 2, 3], "gridColor": {"condition": {"test": "datum.value === 0", "value": "transparent"}, "value": "#b9b9b9"}}}, "text": {"field": "t"}, "color": {"field": "tone", "type": "nominal", "scale": {"domain": ["light", "dark"], "range": ["#000000", "#ffffff"]}, "legend": null}}},
        {"transform": [{"filter": "datum.k === 'q' && datum.s === 'r'"}], "mark": {"type": "text", "style": "qr"},
         "encoding": {"x": {"field": "m", "type": "quantitative", "title": "m", "scale": {"domain": [-4, 3.96], "nice": false, "zero": false}, "axis": {"values": [-4, -3, -2, -1, 0, 1, 2, 3], "gridColor": {"condition": {"test": "datum.value === 0", "value": "transparent"}, "value": "#b9b9b9"}}}, "y": {"field": "n", "type": "quantitative", "title": "n", "scale": {"domain": [-4, 3.96], "nice": false, "zero": false}, "axis": {"values": [-4, -3, -2, -1, 0, 1, 2, 3], "gridColor": {"condition": {"test": "datum.value === 0", "value": "transparent"}, "value": "#b9b9b9"}}}, "text": {"field": "t"}, "color": {"field": "tone", "type": "nominal", "scale": {"domain": ["light", "dark"], "range": ["#000000", "#ffffff"]}, "legend": null}}}
      ]}]}
  ]
}
